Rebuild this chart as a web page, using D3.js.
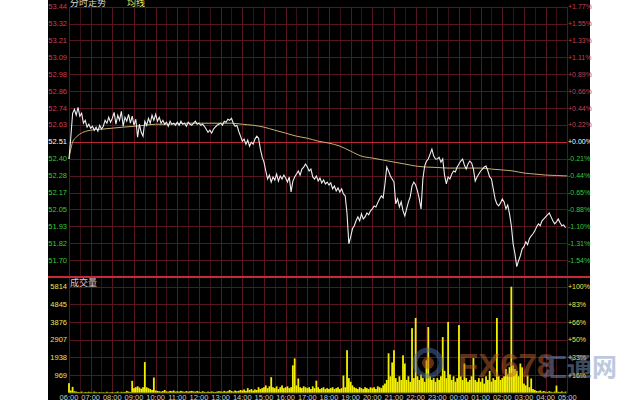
<!DOCTYPE html>
<html><head><meta charset="utf-8">
<script src="https://cdn.jsdelivr.net/npm/d3@7"></script>
<style>html,body{margin:0;padding:0;background:#fff;}svg{display:block;}</style>
</head><body>
<svg id="c" width="640" height="400"></svg>
<script>
// ---------------- data ----------------
const timeLabels = ["06:00","07:00","08:00","09:00","10:00","11:00","12:00","13:00","14:00","15:00","16:00","17:00",
  "18:00","19:00","20:00","21:00","22:00","23:00","00:00","01:00","02:00","03:00","04:00","05:00"];
const priceTickLabels = ["53.44","53.32","53.21","53.09","52.98","52.86","52.74","52.63","52.51","52.40","52.28","52.17","52.05","51.93","51.82","51.70"];
const pctTickLabels = ["+1.77%","+1.55%","+1.33%","+1.11%","+0.89%","+0.66%","+0.44%","+0.22%","+0.00%","-0.21%","-0.44%","-0.65%","-0.88%","-1.10%","-1.31%","-1.54%"];
const volTicks = [5814,4845,3876,2907,1938,969];
const volPctLabels = ["+100%","+83%","+66%","+50%","+33%","+16%"];
const preClose = 52.51;
const priceMax = 53.44, priceMin = 51.58;
const stepMinutes = 5;      // one value every 5 minutes from 06:00
const sessionMinutes = 1380; // 06:00 -> 05:00

const price = [
 52.394,52.544,52.708,52.736,52.695,52.749,52.688,52.708,52.640,52.660,52.613,52.633,
 52.606,52.619,52.592,52.613,52.585,52.626,52.599,52.619,52.660,52.640,52.681,52.647,
 52.674,52.715,52.633,52.695,52.660,52.722,52.619,52.681,52.654,52.701,52.640,52.688,
 52.626,52.667,52.544,52.633,52.578,52.551,52.654,52.626,52.674,52.640,52.695,52.660,
 52.701,52.654,52.681,52.640,52.660,52.633,52.647,52.619,52.654,52.633,52.640,52.626,
 52.647,52.626,52.654,52.633,52.640,52.619,52.647,52.633,52.626,52.640,52.654,52.633,
 52.640,52.626,52.633,52.619,52.599,52.578,52.592,52.572,52.599,52.613,52.626,52.633,
 52.640,52.626,52.654,52.647,52.667,52.660,52.674,52.640,52.619,52.626,52.585,52.551,
 52.517,52.531,52.496,52.524,52.483,52.510,52.496,52.531,52.551,52.537,52.462,52.407,
 52.373,52.312,52.257,52.284,52.236,52.271,52.250,52.291,52.243,52.278,52.257,52.284,
 52.264,52.236,52.271,52.168,52.243,52.271,52.291,52.312,52.284,52.325,52.339,52.360,
 52.339,52.312,52.325,52.271,52.257,52.278,52.243,52.264,52.230,52.250,52.223,52.236,
 52.216,52.230,52.189,52.209,52.175,52.195,52.168,52.189,52.154,52.141,52.018,51.812,
 51.860,51.915,51.936,51.970,51.997,51.970,52.018,51.983,51.997,52.024,52.011,52.038,
 52.052,52.072,52.065,52.093,52.120,52.141,52.127,52.223,52.339,52.312,52.278,52.257,
 52.236,52.086,52.120,52.065,52.100,52.038,52.004,52.052,52.100,52.134,52.209,52.236,
 52.216,52.175,52.120,52.052,52.257,52.346,52.380,52.394,52.428,52.462,52.414,52.394,
 52.394,52.407,52.373,52.394,52.284,52.223,52.271,52.257,52.291,52.312,52.305,52.339,
 52.360,52.380,52.394,52.353,52.325,52.360,52.380,52.367,52.325,52.243,52.271,52.291,
 52.312,52.325,52.339,52.346,52.312,52.271,52.257,52.189,52.120,52.086,52.072,52.093,
 52.120,52.100,52.052,52.079,52.018,51.936,51.812,51.744,51.655,51.696,51.730,51.778,
 51.792,51.826,51.806,51.847,51.867,51.881,51.901,51.929,51.949,51.936,51.970,51.983,
 51.997,52.011,52.024,51.997,51.970,51.949,51.963,51.983,51.956,51.936,51.942,51.922
];

const avgMinutes = [0,5,10,20,30,60,90,120,150,180,210,240,270,300,330,360,390,420,450,480,510,540,570,600,630,660,690,720,
  750,780,810,840,870,900,930,960,990,1020,1050,1080,1110,1140,1170,1200,1230,1260,1290,1320,1350,1380];
const avgPrice = [52.394,52.462,52.510,52.544,52.565,52.592,52.599,52.606,52.613,52.619,52.626,52.633,52.633,52.637,52.640,
  52.640,52.640,52.640,52.640,52.633,52.626,52.613,52.592,52.572,52.551,52.537,52.517,52.503,52.483,52.448,52.414,52.401,
  52.387,52.373,52.360,52.346,52.339,52.336,52.332,52.332,52.332,52.332,52.325,52.319,52.312,52.298,52.291,52.284,52.281,52.278];

const volume = [
 520,120,320,80,60,40,30,60,20,40,30,50,
 30,20,60,30,20,40,20,30,20,50,20,30,
 40,20,30,60,20,50,30,40,100,60,40,650,
 250,300,350,280,220,300,1680,300,250,200,150,830,
 120,100,80,60,90,150,70,60,100,80,120,60,
 80,60,100,70,50,90,60,80,100,70,60,90,
 60,40,80,50,30,60,40,70,50,40,60,80,
 70,50,100,60,80,150,90,60,120,80,100,150,
 120,180,100,250,150,200,120,180,150,300,200,250,
 300,400,250,350,850,300,250,350,200,300,400,250,
 300,350,250,300,1500,1880,400,780,300,250,350,300,
 250,300,200,350,250,660,300,200,250,300,200,250,
 200,250,300,200,250,300,200,250,940,300,2330,800,
 600,400,300,250,200,300,250,200,300,250,200,300,
 250,300,200,350,300,250,400,500,700,2160,900,1660,
 2330,800,600,900,700,2050,1600,700,900,600,3540,800,
 4100,900,700,1000,800,600,1770,3600,900,700,800,600,
 800,700,900,3050,1200,800,3880,1000,700,900,600,800,
 3710,900,700,1600,800,600,700,900,1900,700,600,800,
 600,800,500,900,700,1200,600,800,700,4100,900,700,
 800,900,1300,1000,1400,5814,1500,1300,1200,900,1600,1390,
 500,400,940,300,780,200,150,100,80,120,60,90,
 60,40,80,50,30,60,390,50,40,70,30,60
];

// ---------------- layout ----------------
const svg = d3.select("#c");
const L = 69, R = 567.3;
const x = d3.scaleLinear().domain([0, sessionMinutes]).range([L, R]);
const yP = d3.scaleLinear().domain([priceMin, priceMax]).range([277.6, 6.7]);
const yTick = d3.scalePoint().domain(priceTickLabels).range([yP(53.44), yP(51.70)]);
const yV = d3.scaleLinear().domain([0, 5814]).range([392.7, 286.7]);
const xLab = d3.scalePoint().domain(timeLabels).range([L, R]);

svg.append("rect").attr("x",48).attr("y",0).attr("width",542).attr("height",400).attr("fill","#000");

const grid = svg.append("g").attr("shape-rendering","crispEdges");
const gridCol = "#561622";
// vertical grid (half-hourly)
grid.selectAll("line.v").data(d3.range(0, sessionMinutes + 1, 30)).join("line")
  .attr("x1", d => Math.round(x(d)) + 0.5).attr("x2", d => Math.round(x(d)) + 0.5)
  .attr("y1", yP(priceMax)).attr("y2", yV(0))
  .attr("stroke", d => d % 60 === 0 ? gridCol : "#3a0e16").attr("stroke-width", 1);
// horizontal price grid
grid.selectAll("line.hp").data(priceTickLabels).join("line")
  .attr("x1", L).attr("x2", R)
  .attr("y1", d => Math.round(yTick(d)) + 0.5).attr("y2", d => Math.round(yTick(d)) + 0.5)
  .attr("stroke", d => d === "52.51" ? "#b82a36" : gridCol);
// volume grid
grid.selectAll("line.hv").data(volTicks.concat([0])).join("line")
  .attr("x1", L).attr("x2", R)
  .attr("y1", d => Math.round(yV(d)) + 0.5).attr("y2", d => Math.round(yV(d)) + 0.5)
  .attr("stroke", gridCol);
// separator
grid.append("line").attr("x1", 48).attr("x2", 590).attr("y1", 277).attr("y2", 277)
  .attr("stroke", "#c8283a").attr("stroke-width", 2);

// volume bars
const bw = x(stepMinutes) - x(0);
svg.append("g").selectAll("rect").data(volume).join("rect")
  .attr("x", (d, i) => x(i * stepMinutes) - bw / 2)
  .attr("width", bw)
  .attr("y", d => yV(d)).attr("height", d => yV(0) - yV(d))
  .attr("fill", "#f2ee00");

// avg line
svg.append("path").datum(avgPrice)
  .attr("d", d3.line().x((d, i) => x(avgMinutes[i])).y(d => yP(d)).curve(d3.curveMonotoneX))
  .attr("fill", "none").attr("stroke", "#c8b072").attr("stroke-width", 1);
// price line
svg.append("path").datum(price)
  .attr("d", d3.line().x((d, i) => x(i * stepMinutes)).y(d => yP(d)))
  .attr("fill", "none").attr("stroke", "#eeeeee").attr("stroke-width", 1.1);

// labels
const font = "'Liberation Sans', Arial, sans-serif";
const colOf = (i, mid) => i < mid ? "#c84050" : (i === mid ? "#ffffff" : "#38c838");
svg.append("g").selectAll("text").data(priceTickLabels).join("text")
  .attr("x", 67).attr("y", d => yTick(d) + 2.5).attr("text-anchor", "end")
  .attr("font-family", font).attr("font-size", 7.5)
  .attr("fill", (d, i) => colOf(i, 8)).text(d => d);
svg.append("g").selectAll("text").data(pctTickLabels).join("text")
  .attr("x", 568).attr("y", (d, i) => yTick(priceTickLabels[i]) + 2.5).attr("text-anchor", "start")
  .attr("font-family", font).attr("font-size", 7)
  .attr("fill", (d, i) => colOf(i, 8)).text(d => d);
svg.append("g").selectAll("text").data(volTicks).join("text")
  .attr("x", 67).attr("y", d => yV(d) + 2.5).attr("text-anchor", "end")
  .attr("font-family", font).attr("font-size", 7.5).attr("fill", "#e8e85a").text(d => d);
svg.append("g").selectAll("text").data(volPctLabels).join("text")
  .attr("x", 568).attr("y", (d, i) => yV(volTicks[i]) + 2.5).attr("text-anchor", "start")
  .attr("font-family", font).attr("font-size", 7).attr("fill", "#e8e85a").text(d => d);
svg.append("g").selectAll("text").data(timeLabels).join("text")
  .attr("x", d => xLab(d)).attr("y", 399.5).attr("text-anchor", "middle")
  .attr("font-family", font).attr("font-size", 7.5).attr("fill", "#c8c8c8").text(d => d);

// titles
const cjk = "'Noto Sans CJK SC', sans-serif";
svg.append("text").attr("x", 70).attr("y", 6).attr("font-family", cjk).attr("font-size", 9)
  .attr("fill", "#d8d8d8").text("分时走势");
svg.append("text").attr("x", 127).attr("y", 6).attr("font-family", cjk).attr("font-size", 9)
  .attr("fill", "#e0e060").text("均线");
svg.append("text").attr("x", 70).attr("y", 286).attr("font-family", cjk).attr("font-size", 9)
  .attr("fill", "#e0c8c8").text("成交量");

// watermark
const wm = svg.append("g").attr("opacity", 0.5);
wm.append("circle").attr("cx", 428).attr("cy", 363).attr("r", 13)
  .attr("fill", "none").attr("stroke", "#4a6aa8").attr("stroke-width", 5);
wm.append("circle").attr("cx", 428).attr("cy", 363).attr("r", 6).attr("fill", "#c0602a");
wm.append("text").attr("x", 458).attr("y", 377).attr("font-family", "'Liberation Sans', Arial, sans-serif")
  .attr("font-weight", "bold").attr("font-size", 33).attr("fill", "#c0602a").text("FX678");
wm.append("text").attr("x", 542).attr("y", 376).attr("font-family", cjk).attr("font-weight", "bold")
  .attr("font-size", 25).attr("fill", "#7d94c0").text("汇通网");
</script>
</body></html>
